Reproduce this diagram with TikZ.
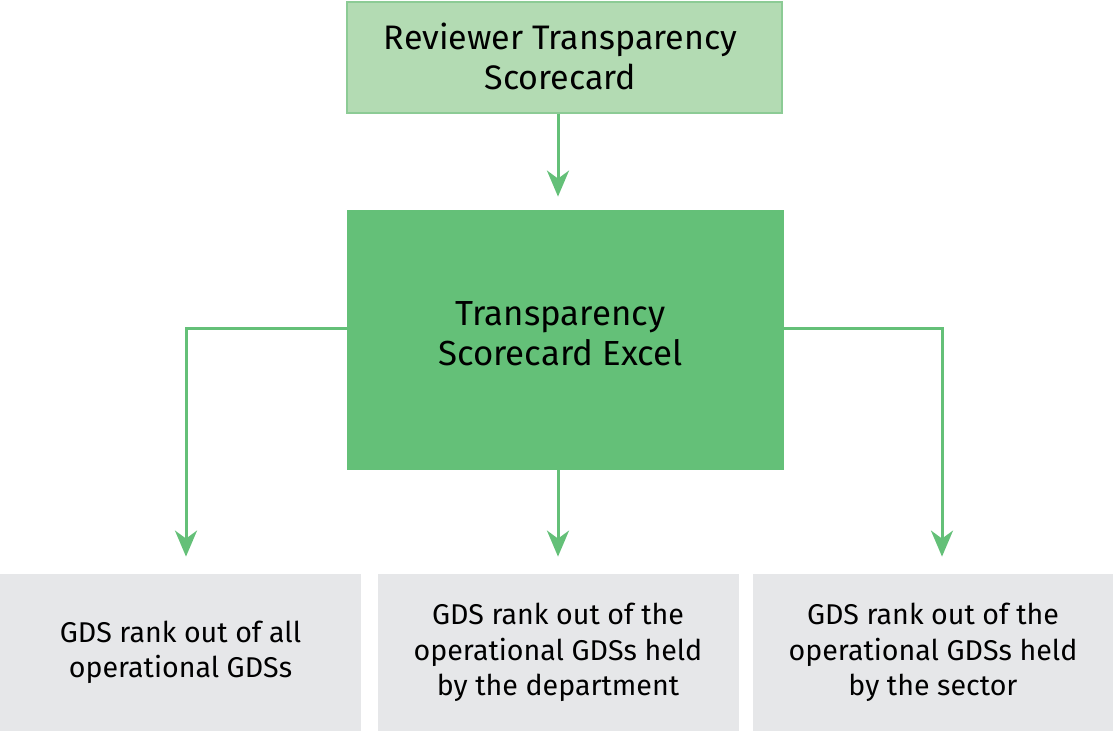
\documentclass[tikz,border=0pt]{standalone}
\usepackage{fontspec}
\setmainfont{Fira Sans}
\usetikzlibrary{arrows.meta,positioning}
\definecolor{scoreLight}{HTML}{B3DBB3}
\definecolor{scoreEdge}{HTML}{8CCB95}
\definecolor{scoreGreen}{HTML}{64C078}
\definecolor{rankGrey}{HTML}{E6E7E9}
\tikzset{
  topBox/.style={draw=scoreEdge,line width=0.6pt,fill=scoreLight,align=center,
    minimum width=217.5pt,minimum height=55.5pt,font=\fontsize{17}{20}\selectfont},
  mainBox/.style={fill=scoreGreen,align=center,minimum width=218.5pt,minimum height=130pt,
    font=\fontsize{17.4}{20}\selectfont},
  rankBox/.style={fill=rankGrey,align=center,minimum width=180.5pt,minimum height=78.5pt,
    font=\fontsize{14.3}{17.75}\selectfont},
  flowArrow/.style={draw=scoreGreen,line width=1.5pt,
    -{Stealth[length=13pt,width=11pt,inset=4pt]},shorten >=7pt}
}
\begin{document}
\begin{tikzpicture}[x=0.5pt,y=-0.5pt]
\useasboundingbox (0,0) rectangle (1113,731);
\node[topBox] (reviewer) at (564.5,57.5) {\raisebox{-2pt}[\height][\depth]{\hspace*{-4pt}\begin{tabular}{@{}c@{}}Reviewer Transparency\\Scorecard\end{tabular}}};
\node[mainBox] (excel) at (565.5,340) {\raisebox{1pt}[\height][\depth]{\hspace*{-5pt}\begin{tabular}{@{}c@{}}Transparency\\Scorecard Excel\end{tabular}}};
\node[rankBox] (rankAll) at (180.5,652.5) {GDS rank out of all\\operational GDSs};
\node[rankBox] (rankDept) at (558,652.5) {GDS rank out of the\\operational GDSs held\\by the department};
\node[rankBox] (rankSector) at (933,652.5) {GDS rank out of the\\operational GDSs held\\by the sector};
\draw[flowArrow,shorten >=6.5pt] (reviewer.south -| rankDept.north) -- (excel.north -| rankDept.north);
\draw[flowArrow,shorten >=8.5pt] (excel.south -| rankDept.north) -- (rankDept.north);
\draw[flowArrow,shorten >=8.5pt] ([yshift=5.5pt]excel.west) -| ([xshift=2.75pt]rankAll.north);
\draw[flowArrow,shorten >=8.5pt] ([yshift=5.5pt]excel.east) -| ([xshift=4.5pt]rankSector.north);
\end{tikzpicture}
\end{document}
